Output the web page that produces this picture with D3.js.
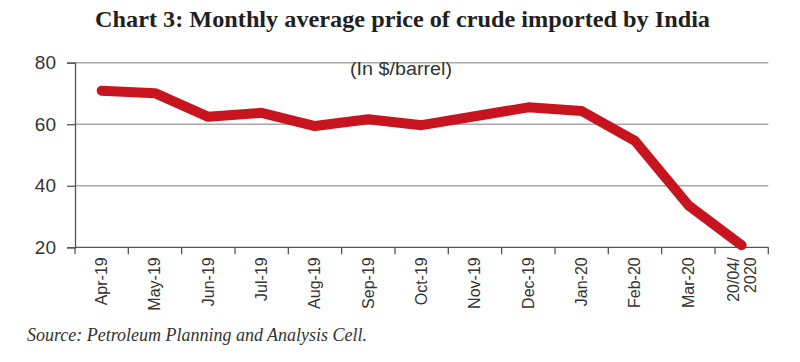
<!DOCTYPE html>
<html>
<head>
<meta charset="utf-8">
<script src="https://cdn.jsdelivr.net/npm/d3@7"></script>
<style>
  body { margin: 0; background: #fff; }
  svg { display: block; }
</style>
</head>
<body>
<div id="chart"></div>
<script>
var months = ['Apr-19', 'May-19', 'Jun-19', 'Jul-19', 'Aug-19', 'Sep-19', 'Oct-19',
              'Nov-19', 'Dec-19', 'Jan-20', 'Feb-20', 'Mar-20', '20/04/2020'];
var prices = [70.9, 70.1, 62.4, 63.7, 59.4, 61.6, 59.7, 62.6, 65.5, 64.3, 54.6, 33.7, 20.7];
var yTicks = [20, 40, 60, 80];

var width = 800, height = 362;
var margin = {top: 62.7, right: 31.7, bottom: 114.7, left: 75};

var svg = d3.select('#chart')
    .append('svg')
    .attr('width', width)
    .attr('height', height);

var x = d3.scaleBand()
    .domain(months)
    .range([margin.left, width - margin.right]);

var y = d3.scaleLinear()
    .domain([20, 80])
    .range([height - margin.bottom, margin.top]);

// title
svg.append('text')
    .attr('x', 402.5)
    .attr('y', 27)
    .attr('text-anchor', 'middle')
    .attr('textLength', 615)
    .attr('lengthAdjust', 'spacingAndGlyphs')
    .style('font-family', '"Liberation Serif", serif')
    .style('font-weight', 'bold')
    .style('font-size', '23px')
    .style('fill', '#231f20')
    .text('Chart 3: Monthly average price of crude imported by India');

// gridlines
svg.append('g')
    .selectAll('line')
    .data(yTicks.slice(1))
    .enter()
    .append('line')
    .attr('x1', margin.left)
    .attr('x2', width - margin.right)
    .attr('y1', function(d) { return y(d); })
    .attr('y2', function(d) { return y(d); })
    .style('stroke', '#a8a8a8')
    .style('stroke-width', 1.5);

// y axis
var yAxis = svg.append('g')
    .attr('transform', 'translate(' + margin.left + ',0)')
    .call(d3.axisLeft(y).tickValues(yTicks).tickSize(8).tickPadding(11));
yAxis.selectAll('text')
    .style('font-family', '"Liberation Sans", Arial, sans-serif')
    .style('font-size', '19px')
    .style('fill', '#333');
yAxis.selectAll('line, path').style('stroke', '#555').style('stroke-width', 1.3);

// x axis, ticks on the band edges
var xAxis = svg.append('g')
    .attr('transform', 'translate(0,' + y(20) + ')');
xAxis.append('line')
    .attr('x1', margin.left)
    .attr('x2', width - margin.right)
    .style('stroke', '#555')
    .style('stroke-width', 1.3);
var edges = months.map(function(m) { return x(m); }).concat([x(months[months.length - 1]) + x.bandwidth()]);
xAxis.selectAll('line.tick')
    .data(edges)
    .enter()
    .append('line')
    .attr('class', 'tick')
    .attr('x1', function(d) { return d; })
    .attr('x2', function(d) { return d; })
    .attr('y1', 0)
    .attr('y2', 7)
    .style('stroke', '#555')
    .style('stroke-width', 1.3);

var labels = xAxis.selectAll('g.lbl')
    .data(months)
    .enter()
    .append('g')
    .attr('class', 'lbl')
    .attr('transform', function(d) {
        return 'translate(' + (x(d) + x.bandwidth() / 2) + ',10) rotate(-90)';
    });
labels.each(function(d) {
    var g = d3.select(this);
    var lines = d === '20/04/2020' ? ['20/04/', '2020'] : [d];
    var t = g.append('text')
        .attr('text-anchor', 'end')
        .style('font-family', '"Liberation Sans", Arial, sans-serif')
        .style('font-size', '16px')
        .style('fill', '#333');
    lines.forEach(function(l, i) {
        t.append('tspan')
            .attr('x', 0)
            .attr('y', lines.length > 1 ? (i === 0 ? -3 : 14) : 5.5)
            .text(l);
    });
});

// unit note
svg.append('text')
    .attr('x', 401)
    .attr('y', 75)
    .attr('text-anchor', 'middle')
    .attr('textLength', 102)
    .attr('lengthAdjust', 'spacingAndGlyphs')
    .style('font-family', '"Liberation Sans", Arial, sans-serif')
    .style('font-size', '18px')
    .style('fill', '#333')
    .text('(In $/barrel)');

// price line
var line = d3.line()
    .x(function(d, i) { return x(months[i]) + x.bandwidth() / 2; })
    .y(function(d) { return y(d); });

svg.append('path')
    .datum(prices)
    .attr('d', line)
    .style('fill', 'none')
    .style('stroke', '#c8141e')
    .style('stroke-width', 10)
    .style('stroke-linejoin', 'round')
    .style('stroke-linecap', 'round');

// source
svg.append('text')
    .attr('x', 27)
    .attr('y', 341)
    .attr('textLength', 340)
    .attr('lengthAdjust', 'spacingAndGlyphs')
    .style('font-family', '"Liberation Serif", serif')
    .style('font-style', 'italic')
    .style('font-size', '18px')
    .style('fill', '#333')
    .text('Source: Petroleum Planning and Analysis Cell.');
</script>
</body>
</html>
